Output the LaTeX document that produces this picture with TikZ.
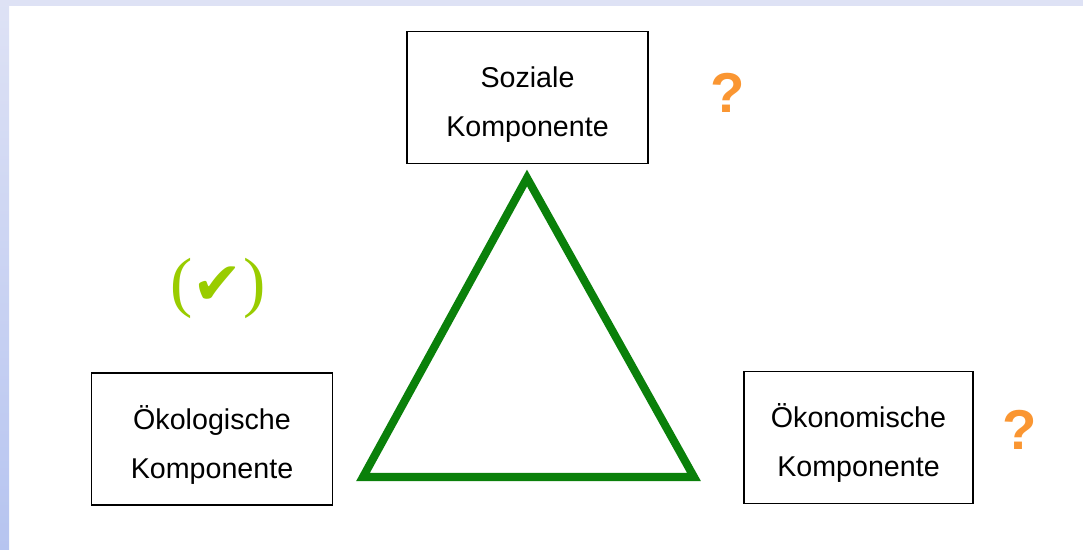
\documentclass[tikz,border=0pt]{standalone}
\usepackage{fontspec}
\setmainfont{Liberation Sans}
\newfontfamily\symfont{DejaVu Sans}
\newfontfamily\parfont{Liberation Serif}
\definecolor{framebl}{RGB}{222,226,245}
\definecolor{framebldark}{RGB}{182,196,240}
\definecolor{trigreen}{RGB}{10,128,10}
\definecolor{okgreen}{RGB}{153,204,0}
\definecolor{qorange}{RGB}{250,150,50}
\newcommand{\kstrut}{\rule{0pt}{20pt}}
\begin{document}
\begin{tikzpicture}[x=0.02cm,y=-0.02cm,
  komp/.style={draw,line width=1.1pt,minimum width=4.82cm,minimum height=2.64cm,align=center,
    font=\fontsize{16.3}{27.8}\selectfont},
  frage/.style={text=qorange,font=\fontsize{32}{32}\selectfont\bfseries}]
  \useasboundingbox (0,0) rectangle (1083,550);
  % frame
  \fill[framebl] (0,0) rectangle (1083,6);
  \shade[top color=framebl,bottom color=framebldark] (0,0) rectangle (9,550);
  % components
  \node[komp] (sozial) at (527.5,97.5) {\kstrut Soziale\\Komponente};
  \node[komp] (oeko) at (212,439) {\kstrut Ökologische\\Komponente};
  \node[komp,minimum width=4.58cm] (oekon) at (858.5,437.5) {\kstrut Ökonomische\\Komponente};
  % triangle
  \coordinate (T) at (527,178); \coordinate (L) at (363,477); \coordinate (R) at (694,477);
  \draw[trigreen,line width=4.6pt,line join=miter] (T) -- (R) -- (L) -- cycle;
  % marks
  \node[text=okgreen] (haken) at (218,288) {\parfont\fontsize{38}{38}\selectfont(\symfont\fontsize{34}{34}\selectfont✔\parfont\fontsize{38}{38}\selectfont)};
  \node[frage] (frage1) at (728,93) {?};
  \node[frage] (frage2) at (1020,430) {?};
\end{tikzpicture}
\end{document}
